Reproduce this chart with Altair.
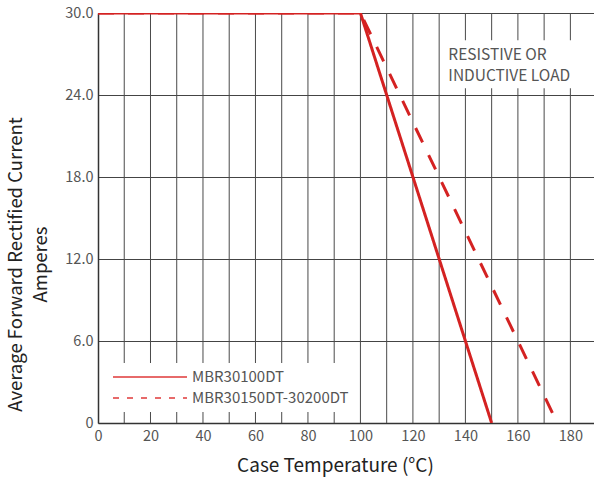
import altair as alt
import pandas as pd

series_names = ["MBR30100DT", "MBR30150DT-30200DT"]
solid_x = [0, 100, 150]
solid_y = [30, 30, 0]
dashed_x = [0, 100, 175]
dashed_y = [30, 30, 0]

x_grid = list(range(10, 190, 10))
x_ticks = list(range(0, 190, 20))
y_ticks = [0, 6, 12, 18, 24, 30]
note_lines = ["RESISTIVE OR", "INDUCTIVE LOAD"]

rows = []
for x, y in zip(solid_x, solid_y):
    rows.append({"t": x, "a": y, "s": series_names[0], "o": len(rows)})
for x, y in zip(dashed_x, dashed_y):
    rows.append({"t": x, "a": y, "s": series_names[1], "o": len(rows)})
df = pd.DataFrame(rows)

FONT = "Noto Sans CJK SC"
RED = "#d42222"

xs = alt.Scale(domain=[0, 189], nice=False, zero=False)
ys = alt.Scale(domain=[0, 30], nice=False)

xaxis = alt.Axis(values=x_ticks, grid=False, labelFlush=False,
                 ticks=False, domainColor="#333", domainWidth=1.5,
                 labelFont=FONT, labelFontSize=14.5, labelColor="#555", labelPadding=6,
                 title="Case Temperature (°C)", titleFont=FONT, titleFontSize=19,
                 titleFontWeight="normal", titleColor="#222", titlePadding=14,
                 titleX=237)
yaxis = alt.Axis(values=y_ticks, labelExpr="datum.value == 0 ? '0' : format(datum.value, '.1f')",
                 grid=True, gridColor="#444", gridWidth=1, gridOpacity=1,
                 ticks=False, domainColor="#333", domainWidth=1.5,
                 labelFont=FONT, labelFontSize=14.5, labelColor="#555", labelPadding=5,
                 title=["Average Forward Rectified Current", "Amperes"], titleFont=FONT,
                 titleFontSize=18.5, titleFontWeight="normal", titleColor="#222",
                 titlePadding=14, titleLineHeight=25, titleY=251)

grid_df = pd.DataFrame({"g": x_grid})
grid = alt.Chart(grid_df).mark_rule(color="#4a4a4a", strokeWidth=1).encode(
    x=alt.X("g:Q", scale=xs, axis=xaxis),
    y=alt.value(0), y2=alt.value(410))

lines = alt.Chart(df).mark_line(strokeWidth=3, clip=True, color=RED).encode(
    x=alt.X("t:Q", scale=xs, axis=xaxis),
    y=alt.Y("a:Q", scale=ys, axis=yaxis),
    order="o:Q",
    detail="s:N",
    strokeDash=alt.condition(alt.datum.s == series_names[1], alt.value([16, 14]), alt.value([1, 0])),
)

legend_layer = alt.Chart(df).mark_line(strokeWidth=0, opacity=1).encode(
    x=alt.X("t:Q", scale=xs, axis=xaxis),
    y=alt.Y("a:Q", scale=ys, axis=yaxis),
    color=alt.Color("s:N", scale=alt.Scale(domain=series_names, range=["#e03a3a", "#e03a3a"]),
                    legend=alt.Legend(title=None, orient="none", legendX=8, legendY=350,
                                      fillColor="white", padding=6, clipHeight=16,
                                      labelFont=FONT, labelFontSize=15, labelColor="#555",
                                      symbolType="stroke", symbolSize=5476,
                                      symbolStrokeWidth=1.5, labelLimit=300,
                                      labelOffset=4, rowPadding=5)),
    strokeDash=alt.StrokeDash("s:N", scale=alt.Scale(domain=series_names, range=[[1, 0], [6, 8]]),
                              legend=None),
)

box_df = pd.DataFrame({"x1": [132], "x2": [186], "y1": [24.5], "y2": [28.0]})
box = alt.Chart(box_df).mark_rect(color="white").encode(
    x=alt.X("x1:Q", scale=xs, axis=xaxis), x2="x2:Q",
    y=alt.Y("y1:Q", scale=ys, axis=yaxis), y2="y2:Q")

note_df = pd.DataFrame({"x": [133.5, 133.5], "y": [26.95, 25.4], "txt": note_lines})
note = alt.Chart(note_df).mark_text(align="left", baseline="middle", font=FONT,
                                    fontSize=15.5, color="#555").encode(
    x=alt.X("x:Q", scale=xs, axis=xaxis), y=alt.Y("y:Q", scale=ys, axis=yaxis), text="txt:N")

chart = alt.layer(grid, box, legend_layer, lines, note).properties(
    width=496, height=410,
    autosize=alt.AutoSizeParams(type="none"),
    padding={"left": 98, "top": 13, "right": 0, "bottom": 61},
).configure_view(stroke=None)

chart.save("out.html", embed_options={"renderer": "svg", "actions": False})
